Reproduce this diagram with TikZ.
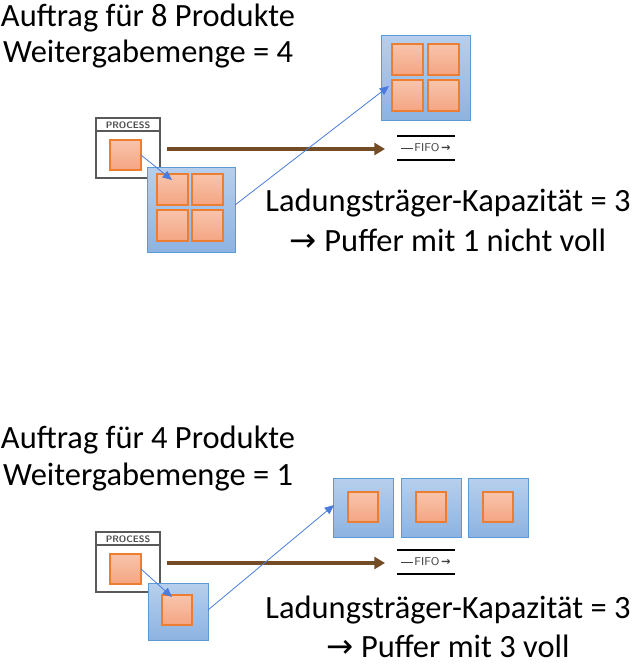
\documentclass[tikz,border=0pt]{standalone}
\usepackage{fontspec}
\setmainfont{Carlito}
\newfontfamily\djv{DejaVu Sans}
\usetikzlibrary{arrows.meta}
\definecolor{obord}{HTML}{ED7D31}
\definecolor{bbord}{HTML}{5B9BD5}
\definecolor{otop}{HTML}{F8C4AC}
\definecolor{obot}{HTML}{F4A582}
\definecolor{btop}{HTML}{B7CFEC}
\definecolor{bbot}{HTML}{8DB3E2}
\tikzset{
 sq/.style={draw=obord,line width=0.8pt,top color=otop,bottom color=obot},
 cont/.style={draw=bbord,line width=0.6pt,top color=btop,bottom color=bbot},
 proc/.style={draw=black!65,line width=1.5pt,fill=white},
 flow/.style={line width=3pt,draw=brown!60!black,-{Triangle[length=8pt,width=9pt]}},
 link/.style={draw=bbord!80!blue,line width=0.6pt,-{Triangle[length=7pt,width=6pt]}},
 txt/.style={font=\fontsize{18.3}{20}\selectfont,inner sep=0pt,scale=1.33}
}
\begin{document}
\begin{tikzpicture}[x=0.75pt,y=-0.75pt]
\useasboundingbox (0,0) rectangle (639,665);
\foreach \dy/\n in {0/a,414/b}{
 \begin{scope}[yshift=-\dy*0.75pt]
 \draw[proc] (96,118) rectangle (160,178);
 \draw[black!65,line width=1.2pt] (96,131) -- (160,131);
 \node[font=\fontsize{7}{7}\selectfont\sffamily\bfseries,inner sep=0pt,black!70] at (128,125) {PROCESS};
 \draw[flow] (167,149) -- (385,149);
 \draw[black,line width=1pt] (397,136) -- (455,136) (397,160) -- (455,160);
 \node[inner sep=0pt,font=\fontsize{8.5}{9}\selectfont\sffamily,black!75] (fifo\n) at (426,148) {\rule[0.6ex]{1em}{1pt}\,FIFO\,{\djv\bfseries →}};
 \end{scope}}
% top
\draw[sq] (110,140) rectangle (141,170);
\draw[cont] (147,167) rectangle (235,252);
\foreach \x/\y in {157/174,192/174,157/210,192/210}{\draw[sq] (\x,\y) rectangle ++(31,31);}
\draw[cont] (381,35) rectangle (470,120);
\foreach \x/\y in {392/44,428/44,392/80,428/80}{\draw[sq] (\x,\y) rectangle ++(31,31);}
\coordinate (p1) at (141,155); \coordinate (c1) at (172,180);
\draw[link] (p1) -- (c1);
\coordinate (s1) at (235,205); \coordinate (t1) at (389,86);
\draw[link] (s1) -- (t1);
\node[txt] at (148,18) {Auftrag für 8 Produkte};
\node[txt] at (148,54) {Weitergabemenge = 4};
\node[txt] at (448,203) {Ladungsträger-Kapazität = 3};
\node[txt] at (448,240) {{\djv →} Puffer mit 1 nicht voll};
% bottom
\draw[sq] (110,554) rectangle (141,584);
\draw[cont] (148,583) rectangle (208,640);
\draw[sq] (162,595) rectangle ++(30,30);
\foreach \x in {333,401,468}{\draw[cont] (\x,478) rectangle ++(60,59); \draw[sq] (\x+15,492) rectangle ++(30,30);}
\coordinate (p2) at (141,569); \coordinate (c2) at (172,597);
\draw[link] (p2) -- (c2);
\coordinate (s2) at (208,610); \coordinate (t2) at (334,505);
\draw[link] (s2) -- (t2);
\node[txt] at (148,440) {Auftrag für 4 Produkte};
\node[txt] at (148,477) {Weitergabemenge = 1};
\node[txt] at (448,610) {Ladungsträger-Kapazität = 3};
\node[txt] at (448,646) {{\djv →} Puffer mit 3 voll};
\end{tikzpicture}
\end{document}
